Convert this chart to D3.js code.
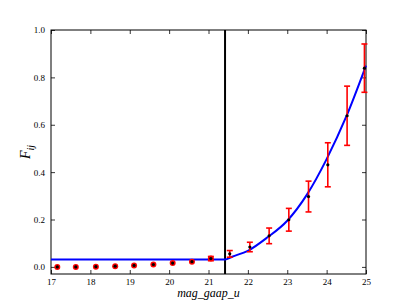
<!DOCTYPE html>
<html>
<head>
<meta charset="utf-8">
<script src="https://cdn.jsdelivr.net/npm/d3@7"></script>
<style>
  body { margin: 0; background: #fff; }
  svg { display: block; }
  .tick text { font-family: "Liberation Serif", "DejaVu Serif", serif; font-size: 9px; fill: #000; }
</style>
</head>
<body>
<div id="chart"></div>
<script>
// red markers below the cut
const lowX = [17.16, 17.63, 18.14, 18.63, 19.11, 19.60, 20.09, 20.58, 21.06];
const lowY = [0.000, 0.000, 0.001, 0.003, 0.006, 0.010, 0.016, 0.022, 0.035];
const lowErr = [0, 0, 0, 0, 0, 0, 0, 0, 0.009];

// black points with red error bars
const hiX = [21.54, 22.05, 22.54, 23.04, 23.54, 24.03, 24.52, 24.96];
const hiY = [0.055, 0.084, 0.131, 0.199, 0.297, 0.431, 0.638, 0.839];
const hiErr = [0.014, 0.020, 0.033, 0.048, 0.065, 0.093, 0.125, 0.102];

// fitted curve
const cutX = 21.42;
const fitX = [17.0, 21.42, 21.6, 22.0, 22.5, 23.0, 23.5, 24.0, 24.5, 25.0];
const fitY = [0.031, 0.031, 0.043, 0.068, 0.125, 0.195, 0.305, 0.455, 0.635, 0.85];

const xTicks = [17, 18, 19, 20, 21, 22, 23, 24, 25];
const yTicks = [0.0, 0.2, 0.4, 0.6, 0.8, 1.0];

const W = 407, H = 305;
const margin = { left: 51, right: 41, top: 30, bottom: 31 };
const iw = W - margin.left - margin.right;
const ih = H - margin.top - margin.bottom;

const svg = d3.select('#chart').append('svg')
    .attr('width', W)
    .attr('height', H);

const g = svg.append('g')
    .attr('transform', `translate(${margin.left},${margin.top})`);

const x = d3.scaleLinear().domain([17, 25]).range([0, iw]);
const y = d3.scaleLinear().domain([-0.03, 1.0]).range([ih, 0]);

// axes with inward ticks on all four sides
const fmtY = d3.format('.1f');
g.append('g').attr('transform', `translate(0,${ih})`)
    .call(d3.axisBottom(x).tickValues(xTicks).tickSizeInner(-4).tickSizeOuter(0).tickPadding(5).tickFormat(d3.format('d')));
g.append('g')
    .call(d3.axisLeft(y).tickValues(yTicks).tickSizeInner(-4).tickSizeOuter(0).tickPadding(6).tickFormat(fmtY));
g.append('g')
    .call(d3.axisTop(x).tickValues(xTicks).tickSizeInner(-4).tickSizeOuter(0).tickFormat(''));
g.append('g').attr('transform', `translate(${iw},0)`)
    .call(d3.axisRight(y).tickValues(yTicks).tickSizeInner(-4).tickSizeOuter(0).tickFormat(''));
g.selectAll('.domain').remove();
g.selectAll('.tick line').attr('stroke', '#000').attr('stroke-width', 0.8);

// frame
g.append('rect')
    .attr('width', iw).attr('height', ih)
    .attr('fill', 'none').attr('stroke', '#000').attr('stroke-width', 1);

// cut line
g.append('line')
    .attr('x1', x(cutX)).attr('x2', x(cutX))
    .attr('y1', 0).attr('y2', ih)
    .attr('stroke', '#000').attr('stroke-width', 2);

// fit curve
const fit = fitX.map((d, i) => [d, fitY[i]]);
g.append('path')
    .datum(fit)
    .attr('fill', 'none')
    .attr('stroke', '#0000ff')
    .attr('stroke-width', 2)
    .attr('d', d3.line().x(d => x(d[0])).y(d => y(d[1])).curve(d3.curveMonotoneX));

// error bars
function errorBars(xs, ys, es) {
    const data = xs.map((d, i) => ({ x: d, y: ys[i], e: es[i] })).filter(d => d.e > 0);
    const eg = g.append('g').attr('stroke', '#ff0000').attr('stroke-width', 1.6);
    eg.selectAll('line.v').data(data).enter().append('line')
        .attr('x1', d => x(d.x)).attr('x2', d => x(d.x))
        .attr('y1', d => y(d.y - d.e)).attr('y2', d => y(d.y + d.e));
    eg.selectAll('line.t').data(data).enter().append('line')
        .attr('x1', d => x(d.x) - 3).attr('x2', d => x(d.x) + 3)
        .attr('y1', d => y(d.y + d.e)).attr('y2', d => y(d.y + d.e));
    eg.selectAll('line.b').data(data).enter().append('line')
        .attr('x1', d => x(d.x) - 3).attr('x2', d => x(d.x) + 3)
        .attr('y1', d => y(d.y - d.e)).attr('y2', d => y(d.y - d.e));
}

// low points: red circles
g.append('g').selectAll('circle')
    .data(lowX.map((d, i) => [d, lowY[i]]))
    .enter().append('circle')
    .attr('cx', d => x(d[0])).attr('cy', d => y(d[1]))
    .attr('r', 3).attr('fill', '#ff0000');
errorBars(lowX, lowY, lowErr);
errorBars(hiX, hiY, hiErr);

// black points
g.append('g').selectAll('circle')
    .data(lowX.map((d, i) => [d, lowY[i]]).concat(hiX.map((d, i) => [d, hiY[i]])))
    .enter().append('circle')
    .attr('cx', d => x(d[0])).attr('cy', d => y(d[1]))
    .attr('r', 1.6).attr('fill', '#000');

// axis labels
svg.append('text')
    .attr('x', margin.left + iw / 2)
    .attr('y', 297)
    .attr('text-anchor', 'middle')
    .attr('font-family', '"Liberation Serif", "DejaVu Serif", serif')
    .attr('font-style', 'italic')
    .attr('font-size', 12)
    .text('mag_gaap_u');

const yl = svg.append('text')
    .attr('transform', `translate(30,${margin.top + ih / 2}) rotate(-90)`)
    .attr('text-anchor', 'middle')
    .attr('font-family', '"Liberation Serif", "DejaVu Serif", serif')
    .attr('font-style', 'italic')
    .attr('font-size', 14);
yl.append('tspan').text('F');
yl.append('tspan').attr('dy', 4).attr('font-size', 10).text('ij');
</script>
</body>
</html>
